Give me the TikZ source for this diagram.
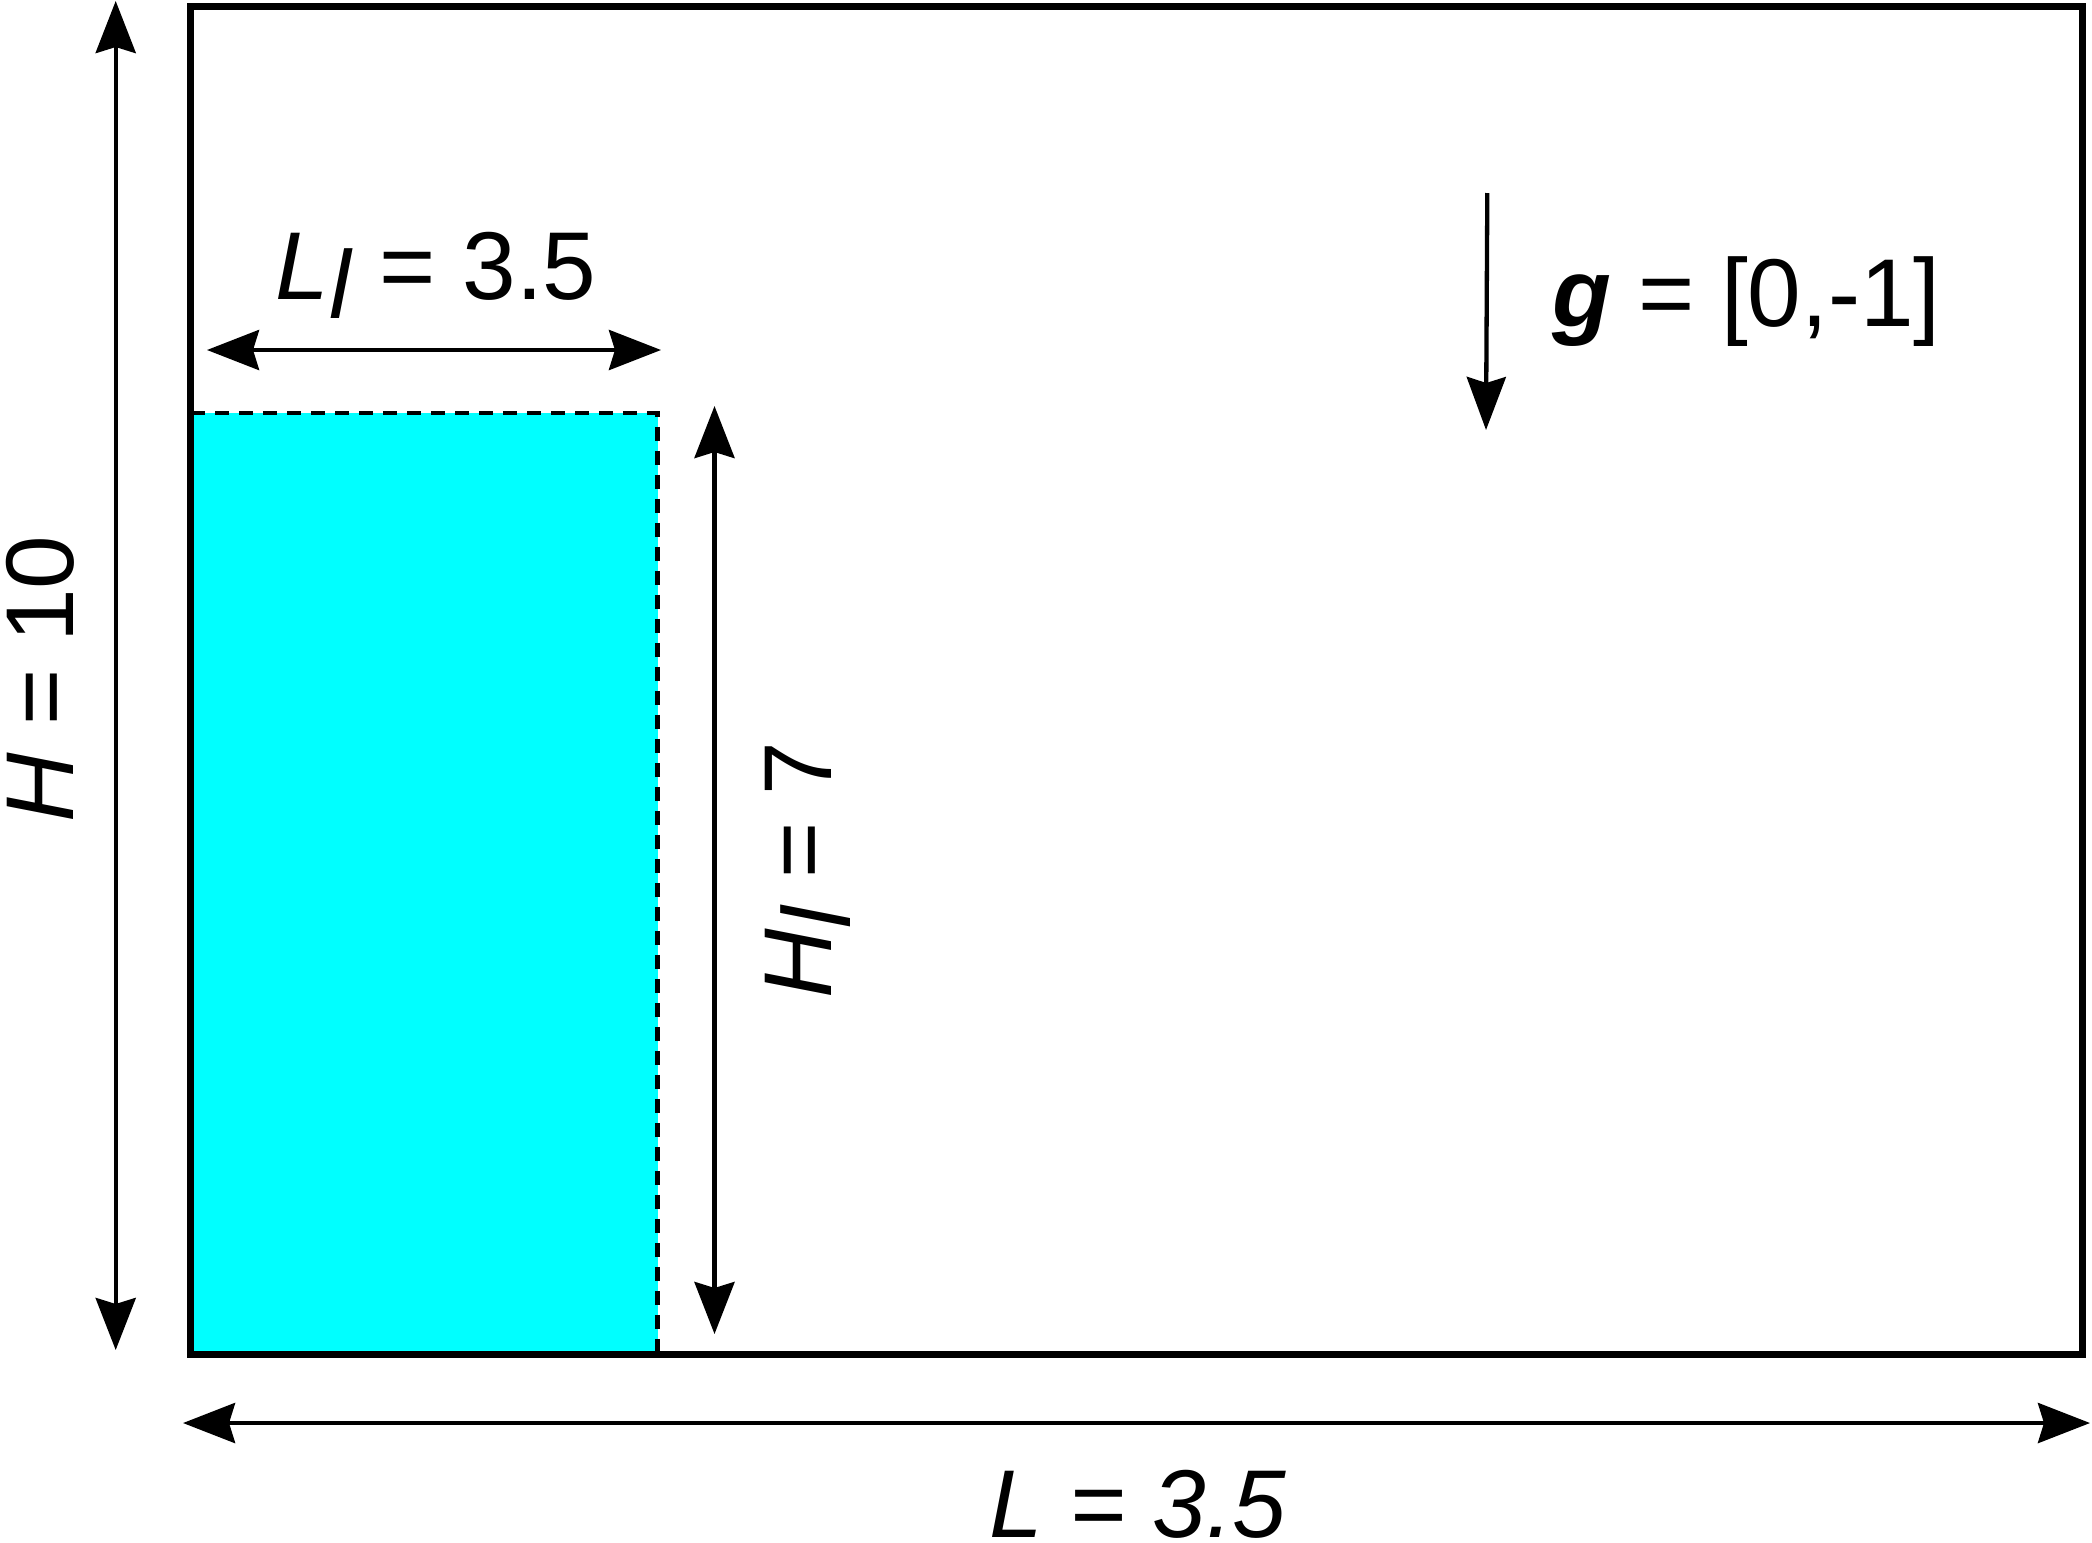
\documentclass[tikz,border=0pt]{standalone}
\usepackage{fontspec}
\setmainfont{Liberation Sans}
\usetikzlibrary{arrows.meta}
\definecolor{water}{HTML}{00FFFF}
\begin{document}
\begin{tikzpicture}[x=0.01cm,y=-0.01cm,
  lbl/.style={font=\fontsize{27.4}{33}\selectfont, inner sep=0pt, anchor=base},
  dimline/.style={line width=0.044cm, {Stealth[length=0.52cm,width=0.40cm,inset=0.06cm]}-{Stealth[length=0.52cm,width=0.40cm,inset=0.06cm]}},
  garrow/.style={line width=0.043cm, -{Stealth[length=0.53cm,width=0.39cm,inset=0.06cm]}},
  wall/.style={line width=0.066cm},
  fluidedge/.style={line width=0.045cm, dash pattern=on 0.14cm off 0.10cm}]
\useasboundingbox (0,0) rectangle (2092,1542);
% fluid column
\fill[water] (191,413) rectangle (657.5,1354);
\draw[fluidedge] (191,413) -- (657.5,413) -- (657.5,1354);
% domain
\draw[wall] (190.7,6.3) rectangle (2082.3,1354.5);
% dimension end points
\coordinate (Htop) at (115.7,1);
\coordinate (Hbot) at (115.7,1350);
\coordinate (Llleft) at (207,350);
\coordinate (Llright) at (661,350);
\coordinate (Hltop) at (714.5,406);
\coordinate (Hlbot) at (714.5,1334);
\coordinate (Lleft) at (183,1423);
\coordinate (Lright) at (2090,1423);
\coordinate (gtop) at (1487.3,193);
\coordinate (gbot) at (1486,430);
% arrows
\draw[dimline] (Htop) -- (Hbot);
\draw[dimline] (Llleft) -- (Llright);
\draw[dimline] (Hltop) -- (Hlbot);
\draw[dimline] (Lleft) -- (Lright);
\draw[garrow] (gtop) -- (gbot);
% labels
\node[lbl, rotate=90] (Hlab) at (73,679) {\textit{H} = 10};
\node[lbl] (Lllab) at (436,299) {\textit{L}\raisebox{-0.2em}{\textit{l}} = 3.5};
\node[lbl, rotate=90] (Hllab) at (831,870) {\textit{H}\raisebox{-0.2em}{\textit{l}} = 7};
\node[lbl] (glab) at (1746.5,326.5) {\textbf{\textit{g}} = [0,-1]};
\node[lbl] (Llab) at (1138,1537) {\textit{L = 3.5}};
\end{tikzpicture}
\end{document}
